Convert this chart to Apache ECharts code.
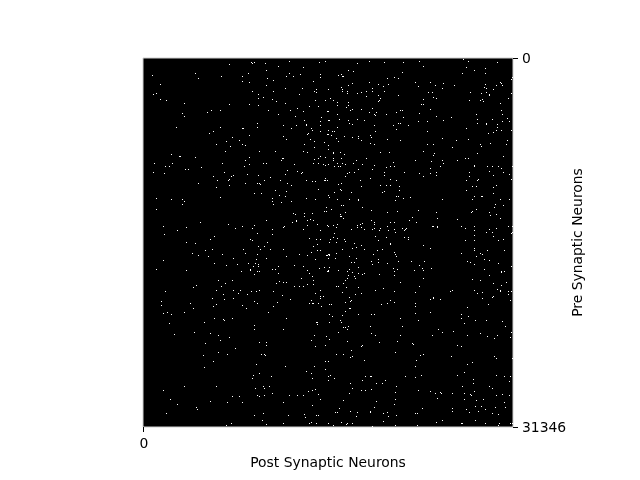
<!DOCTYPE html>
<html><head><meta charset="utf-8">
<style>html,body{margin:0;padding:0;background:#fff}#c{width:640px;height:480px}</style>
<script src="https://cdn.jsdelivr.net/npm/echarts@6/dist/echarts.min.js"></script>
</head><body><div id="c"></div>
<script>
const neuronCount = 31346;
const postBinCount = 370;
const preBinCount = 369;
const xLabel = 'Post Synaptic Neurons';
const yLabel = 'Pre Synaptic Neurons';
const xTicks = [0];
const yTicks = [0, 31346];
// occupied cells of the downsampled connectivity matrix: [post bin, pre bin]
const topLeft = [[85,6],[107,4],[108,5],[110,4],[121,5],[145,3],[175,4],[181,3],[134,8],[159,9],[122,12],[8,17],[51,15],[54,20],[77,18],[98,18],[98,23],[104,15],[105,24],[123,20],[129,22],[122,27],[142,18],[145,15],[149,18],[156,16],[176,16],[176,19],[169,23],[16,26],[9,36],[12,35],[16,41],[22,42],[108,33],[114,36],[114,40],[119,39],[129,33],[141,30],[158,30],[155,36],[170,33],[172,31],[172,34],[184,31],[128,41],[132,43],[171,42],[181,42],[40,45],[85,46],[105,46],[114,47],[141,45],[165,48],[174,48],[153,50],[38,55],[40,58],[63,54],[67,52],[76,52],[124,52],[146,52],[159,53],[183,53],[184,53],[134,56],[151,58],[177,59],[184,62],[185,62],[160,62],[176,63],[113,65],[113,69],[139,67],[152,67],[162,66],[162,67],[176,67],[32,69],[76,69],[98,70],[99,70],[147,70],[167,70],[168,72],[184,72],[176,73],[69,73],[65,75],[164,75],[163,76],[183,76],[105,77],[139,78],[88,79],[142,81],[166,81],[82,83],[95,82],[170,83],[180,84],[72,86],[98,86],[101,87],[86,88],[160,86],[170,89],[81,93],[115,93],[131,93],[159,93],[163,94],[184,91],[27,96],[35,98],[36,98],[51,99],[105,99],[101,102],[138,100],[139,100],[137,102],[176,98],[174,100],[170,101],[181,99],[10,105],[28,105],[21,108],[25,108],[78,105],[105,106],[100,108],[119,105],[122,105],[150,106],[169,105],[174,105],[179,106],[181,107],[57,109],[41,111],[44,111],[9,114],[20,115],[80,114],[143,112],[153,113],[158,114],[157,115],[103,116],[114,117],[141,116],[69,118],[89,117],[87,118],[85,121],[84,122],[73,122],[126,119],[120,122],[136,122],[162,122],[168,123],[171,123],[180,122],[181,122],[181,120],[183,122],[54,125],[85,127],[101,125],[113,125],[115,125],[116,126],[143,125],[147,127],[72,129],[174,131],[131,132],[142,133],[110,135],[117,135],[184,137],[76,139],[135,137],[141,138],[12,140],[27,141],[38,141],[40,143],[38,146],[128,140],[128,143],[129,146],[137,144],[147,143],[162,140],[171,141],[185,139],[12,151],[182,149],[180,153],[182,153],[149,155],[151,156],[160,155],[168,155],[160,158],[163,162],[166,161],[169,162],[152,162],[152,163],[122,162],[56,164],[148,164],[173,166],[163,167],[84,166],[110,167],[140,168],[139,169],[183,167],[184,168],[19,168],[42,169],[33,172],[91,170],[98,168],[108,170],[128,171],[159,171],[176,172],[113,175],[128,176],[20,176],[70,178],[66,181],[106,181],[108,182],[165,180],[172,181],[176,181],[42,184],[51,185],[123,184]];
const topRight = [[319,1],[324,3],[225,3],[213,5],[240,4],[259,4],[275,3],[279,8],[353,4],[322,9],[330,12],[341,10],[204,12],[209,13],[258,14],[318,15],[341,15],[194,17],[197,16],[198,18],[199,18],[368,19],[367,21],[243,20],[250,19],[254,20],[225,24],[208,25],[204,27],[271,24],[286,24],[299,25],[274,28],[291,27],[310,27],[298,30],[234,26],[239,28],[244,26],[356,24],[357,25],[358,27],[352,27],[341,26],[340,29],[342,30],[349,31],[197,29],[198,31],[198,33],[184,31],[203,33],[203,35],[213,35],[217,34],[222,33],[228,33],[228,30],[240,33],[284,34],[288,34],[289,39],[292,40],[326,34],[337,35],[342,34],[345,36],[345,37],[367,35],[222,38],[234,37],[254,37],[186,40],[189,42],[236,40],[235,42],[234,43],[279,41],[325,42],[336,42],[338,41],[339,43],[364,40],[193,44],[193,47],[204,44],[204,47],[202,49],[277,46],[279,46],[356,45],[206,52],[208,51],[217,51],[228,50],[286,51],[256,52],[258,52],[252,54],[184,53],[225,54],[232,54],[230,56],[231,57],[242,56],[275,55],[357,52],[358,56],[332,56],[193,56],[259,59],[292,58],[307,59],[184,62],[185,62],[195,61],[204,62],[205,65],[208,66],[213,61],[220,62],[274,63],[283,63],[299,62],[333,61],[333,65],[348,61],[342,65],[342,66],[358,63],[363,60],[365,63],[254,65],[256,65],[249,67],[264,67],[230,67],[193,69],[252,71],[322,70],[353,66],[353,69],[184,72],[188,73],[190,73],[231,73],[283,73],[352,72],[357,72],[349,74],[344,75],[367,72],[184,76],[187,77],[226,77],[227,79],[200,78],[208,79],[214,78],[214,80],[217,82],[192,80],[194,83],[243,81],[256,82],[298,80],[312,82],[324,81],[363,82],[226,85],[230,86],[283,86],[289,86],[336,86],[337,88],[346,85],[362,86],[184,87],[308,89],[189,94],[189,95],[196,94],[200,96],[236,94],[245,94],[279,93],[290,95],[289,97],[333,95],[359,98],[189,100],[189,102],[197,100],[222,100],[212,102],[271,102],[287,103],[298,102],[299,105],[313,102],[321,100],[324,100],[184,106],[190,108],[194,108],[196,108],[193,105],[198,105],[201,106],[209,105],[218,106],[230,107],[249,104],[246,108],[250,108],[242,109],[296,108],[330,107],[330,108],[343,108],[348,108],[354,108],[357,110],[368,108],[214,111],[228,111],[286,110],[286,115],[292,114],[292,117],[205,114],[203,115],[201,118],[210,114],[240,114],[240,117],[260,114],[275,115],[279,118],[325,114],[325,118],[345,113],[349,117],[359,114],[365,116],[367,121],[226,120],[216,122],[246,121],[252,122],[322,122],[333,122],[334,121],[194,126],[197,125],[217,128],[236,127],[242,127],[246,127],[255,128],[328,128],[332,128],[349,129],[352,127],[196,131],[197,132],[207,134],[240,133],[238,134],[255,132],[322,132],[349,135],[190,134],[184,137],[185,139],[193,141],[205,141],[214,141],[214,142],[254,138],[252,138],[251,142],[259,140],[266,139],[330,138],[328,141],[337,138],[338,138],[298,141],[356,141],[365,141],[197,147],[199,147],[218,149],[351,146],[350,149],[359,147],[187,151],[227,152],[274,152],[292,154],[253,153],[243,154],[332,151],[328,153],[327,154],[345,154],[346,157],[352,156],[201,154],[196,156],[196,158],[197,158],[268,159],[265,162],[293,160],[313,161],[199,160],[227,162],[230,164],[230,166],[246,164],[250,164],[272,164],[193,166],[189,167],[184,168],[192,169],[218,165],[216,166],[213,167],[213,169],[217,169],[288,168],[289,168],[293,168],[293,169],[317,168],[321,170],[330,168],[356,160],[352,170],[345,171],[368,168],[364,168],[207,171],[220,171],[228,171],[230,170],[236,170],[235,172],[243,168],[244,172],[250,171],[251,174],[258,170],[261,171],[262,170],[260,172],[190,175],[330,172],[342,174],[348,174],[368,174],[367,175],[231,178],[242,179],[246,185],[246,186],[260,179],[264,179],[264,181],[189,179],[193,180],[186,181],[200,181],[201,183],[192,184],[185,184],[234,182],[330,177],[321,182],[330,182],[349,178],[354,182],[359,181],[210,185]];
const bottomLeft = [[114,188],[120,188],[116,191],[126,191],[61,192],[68,191],[99,191],[139,191],[173,186],[169,188],[173,192],[176,192],[167,194],[48,195],[78,196],[101,195],[113,196],[155,196],[163,197],[54,197],[64,198],[142,198],[183,197],[184,196],[182,197],[185,197],[184,200],[19,202],[89,200],[112,201],[122,200],[171,201],[70,205],[111,205],[104,205],[114,206],[114,208],[93,206],[82,207],[109,208],[150,207],[159,208],[175,210],[180,209],[185,209],[12,211],[42,212],[106,211],[106,212],[113,213],[115,213],[97,213],[128,211],[131,211],[134,208],[163,212],[165,215],[184,213],[183,213],[110,216],[134,215],[168,218],[157,220],[169,222],[169,226],[74,222],[88,222],[81,225],[135,223],[139,224],[142,224],[132,225],[52,227],[49,229],[77,228],[150,228],[155,228],[159,228],[163,226],[21,233],[72,232],[89,232],[96,232],[107,233],[112,233],[115,232],[129,233],[79,236],[94,235],[103,236],[138,237],[171,235],[176,232],[68,240],[80,241],[89,240],[146,241],[176,238],[179,238],[176,240],[17,243],[17,247],[46,245],[49,250],[72,246],[69,248],[110,243],[113,245],[98,247],[102,250],[133,244],[129,248],[167,242],[165,245],[168,245],[169,245],[174,245],[177,248],[185,246],[19,255],[23,254],[27,256],[40,254],[124,254],[185,256],[70,260],[79,261],[80,262],[88,260],[142,260],[25,265],[60,264],[110,267],[172,264],[173,264],[173,266],[185,264],[110,271],[139,271],[30,276],[50,274],[66,275],[74,277],[85,279],[170,277],[182,278],[76,282],[61,285],[115,284],[122,284],[122,287],[167,282],[185,281],[181,287],[171,288],[91,290],[74,294],[59,297],[83,296],[117,296],[120,296],[121,297],[69,303],[181,303],[184,303],[60,309],[112,306],[141,308],[170,308],[181,311],[162,313],[167,315],[115,315],[109,317],[108,320],[127,318],[168,320],[184,318],[184,322],[40,328],[72,328],[111,330],[119,328],[120,330],[125,328],[19,332],[164,333],[168,332],[171,331],[174,336],[128,335],[113,337],[115,338],[120,337],[145,337],[153,337],[159,337],[88,338],[95,338],[26,341],[176,341],[66,343],[83,344],[98,344],[139,344],[33,346],[168,347],[52,349],[53,351],[22,355],[110,357],[119,355],[144,357],[160,356],[161,359],[172,357],[174,357],[118,362],[82,367],[87,365],[122,366],[139,365],[165,365],[167,364],[172,365]];
const bottomRight = [[212,189],[217,187],[208,190],[220,191],[198,191],[233,192],[238,191],[279,187],[286,190],[250,194],[251,196],[185,196],[192,195],[205,198],[212,200],[184,200],[191,200],[229,196],[252,198],[330,190],[330,192],[343,192],[360,192],[317,195],[332,198],[336,195],[338,196],[340,201],[345,202],[207,204],[210,204],[227,203],[228,206],[234,201],[234,204],[243,205],[254,203],[267,203],[280,203],[275,207],[323,203],[326,204],[330,206],[354,205],[367,208],[185,209],[184,212],[194,212],[205,211],[214,209],[203,213],[249,210],[253,211],[250,213],[270,212],[278,210],[279,212],[287,210],[340,211],[357,213],[357,214],[360,213],[208,214],[204,217],[214,215],[218,216],[220,215],[210,218],[211,220],[235,216],[250,217],[203,220],[201,222],[199,225],[279,220],[345,217],[328,221],[336,222],[256,224],[349,225],[362,224],[192,228],[194,228],[202,229],[214,229],[239,230],[275,228],[357,227],[198,234],[211,236],[217,235],[231,232],[250,233],[271,234],[306,233],[308,232],[330,232],[333,235],[338,234],[353,231],[356,232],[356,233],[364,233],[367,233],[364,236],[205,239],[207,242],[206,243],[201,244],[289,239],[289,240],[286,241],[296,241],[338,240],[349,238],[348,239],[246,242],[243,245],[250,244],[237,246],[271,245],[271,248],[185,246],[187,246],[344,246],[366,242],[205,250],[206,250],[201,253],[323,249],[271,255],[286,254],[317,256],[214,256],[198,257],[227,256],[230,256],[185,256],[188,258],[324,258],[317,260],[256,260],[196,262],[197,264],[274,262],[331,262],[342,262],[358,263],[185,264],[320,265],[226,268],[199,269],[204,268],[201,269],[203,271],[258,268],[361,268],[294,271],[298,274],[309,273],[194,274],[227,275],[231,277],[256,277],[288,277],[323,277],[336,275],[343,278],[350,280],[353,277],[367,274],[366,279],[203,283],[235,284],[253,283],[268,285],[269,286],[218,287],[217,288],[313,287],[317,288],[207,292],[251,294],[192,296],[199,296],[208,298],[206,299],[279,296],[276,297],[307,298],[350,298],[352,300],[368,300],[220,302],[184,303],[272,302],[271,308],[323,306],[328,304],[320,314],[277,317],[313,317],[352,317],[360,318],[366,318],[186,317],[184,318],[190,320],[221,318],[226,318],[227,318],[261,318],[271,319],[329,321],[184,322],[218,322],[241,322],[329,325],[365,323],[206,325],[232,325],[238,325],[252,328],[318,328],[345,328],[348,330],[208,330],[217,332],[221,332],[227,331],[274,332],[286,333],[291,335],[296,334],[297,335],[308,335],[330,333],[205,335],[251,334],[320,335],[326,336],[327,337],[352,337],[358,336],[365,337],[251,341],[293,340],[320,341],[339,341],[332,342],[199,342],[232,343],[360,344],[250,346],[230,349],[195,350],[213,354],[206,353],[191,354],[193,354],[226,353],[226,354],[278,350],[308,350],[308,353],[322,351],[331,348],[337,348],[341,351],[351,349],[361,349],[325,354],[334,353],[348,355],[354,356],[239,355],[243,354],[244,358],[212,358],[252,357],[271,355],[273,355],[239,363],[298,362],[292,364],[331,362],[197,364],[208,365],[203,365],[202,366],[184,365],[189,367],[228,368],[251,367],[273,367],[317,365],[318,365],[341,365],[355,365],[354,367],[366,365],[368,365]];

const postBinSize = neuronCount / postBinCount;
const preBinSize = neuronCount / preBinCount;
const points = [...topLeft, ...topRight, ...bottomLeft, ...bottomRight]
  .map(([post, pre]) => [(post + 1.5) * postBinSize, (pre + 0.5) * preBinSize]);

const chart = echarts.init(document.getElementById('c'), null, {renderer: 'canvas', devicePixelRatio: 1});
const font = 'DejaVu Sans';
const txt = {color: '#000', fontFamily: font, fontSize: 13.9};
chart.setOption({
  animation: false,
  backgroundColor: '#fff',
  grid: {left: 143, top: 58, width: 370, height: 369, show: true, backgroundColor: '#000', borderColor: '#cfcfcf', borderWidth: 1},
  xAxis: {
    type: 'value', min: 0, max: neuronCount, position: 'bottom',
    name: xLabel, nameLocation: 'middle', nameGap: 28, nameTextStyle: txt,
    axisLine: {show: false, onZero: false}, splitLine: {show: false},
    axisTick: {show: true, length: 5, customValues: xTicks, lineStyle: {color: '#000', width: 1}},
    axisLabel: {show: true, customValues: xTicks, margin: 10, ...txt, padding: [0, 0, 0, 2], formatter: v => String(v)}
  },
  yAxis: {
    type: 'value', min: 0, max: neuronCount, inverse: true, position: 'right',
    name: yLabel, nameLocation: 'middle', nameRotate: 90, nameGap: 58, nameMoveOverlap: false, nameTextStyle: txt,
    axisLine: {show: false, onZero: false}, splitLine: {show: false},
    axisTick: {show: true, length: 5, customValues: yTicks, lineStyle: {color: '#000', width: 1}},
    axisLabel: {show: true, customValues: yTicks, margin: 9, ...txt, verticalAlign: 'top', lineHeight: 3, formatter: v => String(v)}
  },
  series: [{
    type: 'scatter', data: points, symbol: 'rect', symbolSize: 1,
    itemStyle: {color: '#fff', opacity: 1}, silent: true, clip: false, large: false
  }]
});
</script></body></html>
